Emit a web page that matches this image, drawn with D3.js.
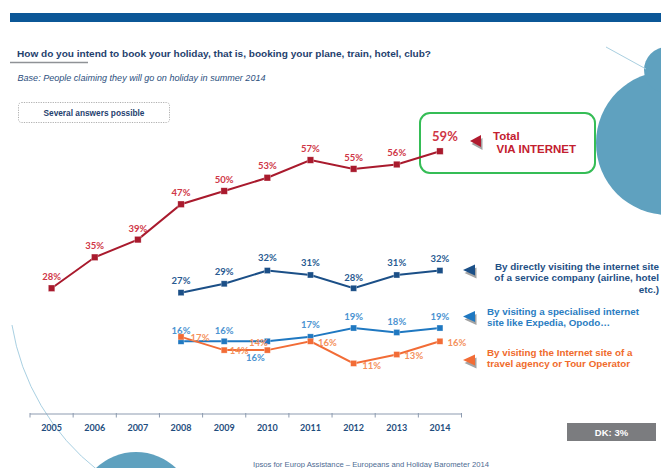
<!DOCTYPE html>
<html>
<head>
<meta charset="utf-8">
<script src="https://cdn.jsdelivr.net/npm/d3@7"></script>
<style>
  html, body { margin: 0; padding: 0; background: #ffffff; overflow: hidden; }
  svg { display: block; }
</style>
</head>
<body>
<svg id="chart" width="661" height="468"></svg>
<script>
// ---- data ----
const years = ["2005", "2006", "2007", "2008", "2009", "2010", "2011", "2012", "2013", "2014"];
const totalInternet = [28, 35, 39, 47, 50, 53, 57, 55, 56, 59];
const serviceCompany = [null, null, null, 27, 29, 32, 31, 28, 31, 32];
const specialisedSite = [null, null, null, 16, 16, 16, 17, 19, 18, 19];
const travelAgency = [null, null, null, 17, 14, 14, 16, 11, 13, 16];
const dontKnow = 3;

const titleText = "How do you intend to book your holiday, that is, booking your plane, train, hotel, club?";
const baseText = "Base: People claiming they will go on holiday in summer  2014";

// ---- layout ----
const svg = d3.select("#chart");
const W = 661, H = 468;

const x = d3.scaleBand().domain(years).range([30, 461.5]).padding(0);
const y = d3.scaleLinear().domain([0, 60]).range([412, 146.8]);

const sansBold = "'Liberation Sans', Arial, sans-serif";
const labelFont = "Lato, 'Liberation Sans', sans-serif";

// background decorations
const deco = svg.append("g");
deco.append("circle").attr("cx", 668).attr("cy", 143).attr("r", 72).attr("fill", "#5fa1bf");
deco.append("circle").attr("cx", 667).attr("cy", 70).attr("r", 23).attr("fill", "#5fa1bf");
deco.append("line").attr("x1", 606).attr("y1", 47).attr("x2", 646).attr("y2", 69)
  .attr("stroke", "#a9cfe0").attr("stroke-width", 1);
deco.append("circle").attr("cx", 136).attr("cy", 510).attr("r", 58).attr("fill", "#5fa1bf");
const arc = d3.path();
arc.arc(240.7, 287.9, 231.7, Math.atan2(325 - 287.9, 12 - 240.7), Math.atan2(470 - 287.9, 98 - 240.7), true);
deco.append("path").attr("d", arc.toString()).attr("fill", "none")
  .attr("stroke", "#a9d0e2").attr("stroke-width", 1);

// header
svg.append("rect").attr("x", 10).attr("y", 13).attr("width", W - 10).attr("height", 9).attr("fill", "#0b5797");
svg.append("text").attr("x", 17).attr("y", 56.5).text(titleText)
  .attr("font-family", sansBold).attr("font-weight", "bold").attr("font-size", 9.6)
  .attr("fill", "#1f3f6e").attr("textLength", 414).attr("lengthAdjust", "spacingAndGlyphs");
svg.append("line").attr("x1", 10).attr("x2", 88).attr("y1", 62.5).attr("y2", 62.5)
  .attr("stroke", "#8f9296").attr("stroke-width", 1.6);
svg.append("text").attr("x", 17.5).attr("y", 81).text(baseText)
  .attr("font-family", sansBold).attr("font-style", "italic").attr("font-size", 8.2)
  .attr("fill", "#2c4f7e").attr("textLength", 248).attr("lengthAdjust", "spacingAndGlyphs");

svg.append("rect").attr("x", 18.5).attr("y", 102.5).attr("width", 151).attr("height", 20).attr("rx", 3)
  .attr("fill", "#ffffff").attr("stroke", "#9a9a9a").attr("stroke-width", 0.8).attr("stroke-dasharray", "1.2,1.2");
svg.append("text").attr("x", 94).attr("y", 116).attr("text-anchor", "middle").text("Several answers possible")
  .attr("font-family", sansBold).attr("font-weight", "bold").attr("font-size", 8.3).attr("fill", "#1f3f6e");

// highlight box around the total
svg.append("rect").attr("x", 420).attr("y", 113).attr("width", 175).attr("height", 60).attr("rx", 10)
  .attr("fill", "none").attr("stroke", "#35bd56").attr("stroke-width", 2);

// x axis
const axisG = svg.append("g").attr("transform", "translate(0,414)");
axisG.append("line").attr("x1", 30).attr("x2", 461.5).attr("stroke", "#8d9bb0").attr("stroke-width", 1);
const tickPos = years.map(d => x(d)).concat([x.range()[1]]);
axisG.selectAll("line.tick").data(tickPos).join("line").attr("class", "tick")
  .attr("x1", d => d).attr("x2", d => d).attr("y1", -1).attr("y2", 3.5)
  .attr("stroke", "#8d9bb0").attr("stroke-width", 1);
axisG.selectAll("text").data(years).join("text")
  .attr("x", d => x(d) + x.bandwidth() / 2).attr("y", 16.5).attr("text-anchor", "middle").text(d => d)
  .attr("font-family", labelFont).attr("font-weight", "bold").attr("font-size", 9).attr("fill", "#1f4e7e");

// series
const cx = d => x(d) + x.bandwidth() / 2;
const series = [
  { values: specialisedSite, line: "#1f78c1", label: "#4b93d1", size: 6, width: 2,
    place: [null, null, null, [0, -7.5], [0, -7.5], [-12, 20], [0, -8.5], [0, -8.5], [0, -7.5], [0, -8.5]] },
  { values: travelAgency, line: "#f26c36", label: "#f4915c", size: 6, width: 2,
    place: [null, null, null, [19, 4.5], [15, 4], [-9, -4.5], [17, 4.5], [18, 5.5], [17, 4.5], [17, 4.5]] },
  { values: serviceCompany, line: "#1b4f87", label: "#285a91", size: 6, width: 2,
    place: [null, null, null, [0, -8.5], [0, -8.5], [0, -9.5], [0, -8.5], [0, -7.5], [0, -8.5], [0, -9]] },
  { values: totalInternet, line: "#a91a2d", label: "#cf3646", size: 6.5, width: 2,
    place: [[0, -8], [0, -8], [0, -8], [0, -8.5], [0, -8.5], [0, -8.5], [0, -8.5], [0, -8], [0, -8], [5, -10.5]] }
];

series.forEach(s => {
  const pts = years.map((yr, i) => ({ yr, v: s.values[i], p: s.place[i] })).filter(d => d.v !== null);
  const g = svg.append("g");
  g.append("path").datum(pts)
    .attr("d", d3.line().x(d => cx(d.yr)).y(d => y(d.v)))
    .attr("fill", "none").attr("stroke", s.line).attr("stroke-width", s.width);
  g.selectAll("rect").data(pts).join("rect")
    .attr("x", d => cx(d.yr) - s.size / 2).attr("y", d => y(d.v) - s.size / 2)
    .attr("width", s.size).attr("height", s.size).attr("fill", s.line)
    .attr("stroke", "#ffffff").attr("stroke-opacity", 0.5).attr("stroke-width", 0.6);
  s.group = g; s.pts = pts;
});

series.forEach((s, si) => {
  s.group.selectAll("text").data(s.pts).join("text")
    .attr("x", d => cx(d.yr) + d.p[0]).attr("y", d => y(d.v) + d.p[1])
    .attr("text-anchor", "middle")
    .attr("font-family", labelFont).attr("font-weight", "bold")
    .attr("font-size", d => (si === 3 && d.yr === "2014") ? 13 : 9.5)
    .attr("fill", s.label)
    .text(d => d.v + "%");
});

// legend pointers and texts
function pointer(tipX, tipY, w, h, color) {
  const pts = [[tipX, tipY], [tipX + w, tipY - h / 2], [tipX + w, tipY + h / 2]];
  svg.append("polygon").attr("points", pts.map(p => [p[0] + 1.5, p[1] + 3].join(",")).join(" "))
    .attr("fill", "#a3a3a3");
  svg.append("polygon").attr("points", pts.map(p => p.join(",")).join(" ")).attr("fill", color);
}
pointer(470, 141, 11, 12, "#b01b2f");
pointer(463, 270, 12, 11, "#1b4f87");
pointer(463, 316.5, 12, 11, "#1f78c1");
pointer(463, 360, 12, 11, "#f26c36");

function legendText(lines, xPos, y0, dy, color, anchor, size) {
  const t = svg.append("text").attr("font-family", sansBold).attr("font-weight", "bold")
    .attr("font-size", size).attr("fill", color).attr("text-anchor", anchor);
  lines.forEach((ln, i) => {
    t.append("tspan").attr("x", Array.isArray(xPos) ? xPos[i] : xPos).attr("y", y0 + i * dy).text(ln);
  });
}
legendText(["Total", "VIA INTERNET"], [493, 496.5], 139.5, 13.5, "#c3202f", "start", 11.5);
legendText(["By directly visiting the internet site", "of a service company (airline, hotel", "etc.)"],
  659, 270, 11.3, "#1e4f85", "end", 9.9);
legendText(["By visiting a specialised internet", "site like Expedia, Opodo\u2026"],
  487, 314.5, 11.3, "#2a7dc2", "start", 9.8);
legendText(["By visiting the Internet site of a", "travel agency or Tour Operator"],
  487, 355.5, 11.3, "#f06b2c", "start", 9.8);

// don't know box
svg.append("rect").attr("x", 567).attr("y", 423).attr("width", 89).attr("height", 18).attr("fill", "#7b7c7f");
svg.append("text").attr("x", 611.5).attr("y", 435.5).attr("text-anchor", "middle")
  .attr("font-family", sansBold).attr("font-weight", "bold").attr("font-size", 9.5).attr("fill", "#ffffff")
  .text("DK: " + dontKnow + "%");

// source line
svg.append("text").attr("x", 253).attr("y", 466.5)
  .attr("font-family", sansBold).attr("font-size", 6.5).attr("fill", "#4d6b92")
  .attr("textLength", 236).attr("lengthAdjust", "spacingAndGlyphs")
  .text("Ipsos for Europ Assistance \u2013 Europeans and Holiday Barometer 2014");
</script>
</body>
</html>
